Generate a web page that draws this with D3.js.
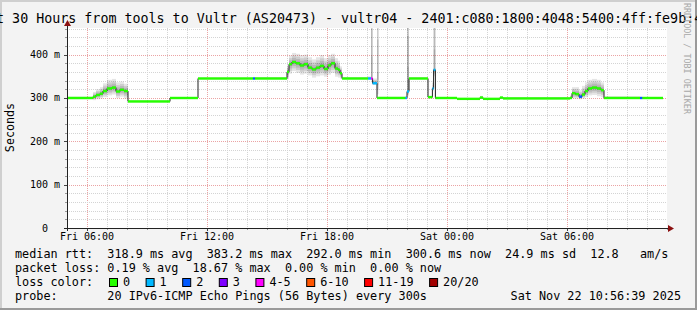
<!DOCTYPE html>
<html>
<head>
<meta charset="utf-8">
<script src="https://cdn.jsdelivr.net/npm/d3@7"></script>
<style>
  body { margin: 0; background: #fff; }
  svg text { font-family: "DejaVu Sans Mono", monospace; white-space: pre; }
</style>
</head>
<body>
<div id="chart"></div>
<script>
// hours since Fri 05:00, each value holds until the next start
const segHour = [0.00, 1.30, 1.45, 1.65, 1.80, 2.00, 2.25, 2.45, 2.65, 2.85, 3.05, 5.15, 6.55, 9.30, 9.40,
  11.00, 11.10, 11.25, 11.45, 11.65, 11.85, 12.05, 12.25, 12.45, 12.65, 12.85, 13.05, 13.20, 13.40, 13.55, 13.65, 13.75,
  15.05, 15.20, 15.28, 15.50, 15.58, 16.92, 17.00, 17.10, 18.05, 18.27, 18.33, 18.42, 19.50, 20.65, 20.80, 21.65, 21.80,
  25.15, 25.25, 25.42, 25.60, 25.75, 25.90, 26.05, 26.25, 26.50, 26.70, 26.85, 28.65, 28.77];
const lastHour = 29.8;
const medianMs = [300, 303, 307, 310, 316, 322, 324, 315, 319, 316, 292, 300, 345, 345, 345,
  360, 378, 383, 380, 375, 378, 370, 366, 370, 374, 367, 375, 380, 368, 365, 357, 345,
  345, 345, 334, 300, 300, 300, 315, 345, 302, 322, 365, 300, 298, 301, 298, 301, 299,
  300, 311, 309, 303, 308, 316, 322, 324, 322, 318, 300, 300, 300];
const lossPings = [0, 0, 0, 0, 0, 0, 0, 0, 0, 0, 0, 0, 0, 2, 0,
  0, 0, 0, 0, 0, 0, 0, 0, 0, 0, 0, 0, 0, 0, 0, 0, 0,
  1, 5, 1, 0, 0, 1, 1, 0, 0, 1, 1, 0, 0, 0, 0, 0, 0,
  0, 0, 0, 2, 0, 0, 0, 0, 0, 0, 0, 2, 0];
const smokeLoMs = [297, 295, 297, 299, 302, 306, 308, 300, 303, 299, 290, 298, 343, 343, 343,
  343, 356, 362, 358, 354, 356, 352, 347, 350, 352, 349, 354, 358, 349, 347, 345, 343,
  343, 340, 330, 342, 298, 298, 305, 343, 299, 315, 350, 298, 297, 298, 297, 298, 297,
  298, 299, 299, 297, 299, 302, 306, 307, 304, 302, 298, 298, 298];
const smokeHiMs = [303, 314, 320, 325, 334, 342, 344, 336, 338, 333, 294, 302, 347, 347, 348,
  375, 398, 404, 402, 399, 400, 394, 389, 394, 399, 392, 399, 402, 392, 386, 373, 348,
  350, 600, 345, 600, 303, 305, 600, 348, 305, 340, 600, 302, 300, 305, 300, 303, 301,
  306, 325, 325, 318, 328, 336, 342, 344, 342, 336, 304, 302, 302];

const xTickHours = [1, 7, 13, 19, 25];
const xTickLabels = ["Fri 06:00", "Fri 12:00", "Fri 18:00", "Sat 00:00", "Sat 06:00"];
const yTicks = [0, 100, 200, 300, 400];
const yTickLabels = ["0  ", "100 m", "200 m", "300 m", "400 m"];

const lossLabels = ["0", "1", "2", "3", "4-5", "6-10", "11-19", "20/20"];
const lossColors = ["#26ff00", "#00b8ff", "#0059ff", "#7e00ff", "#ff00ff", "#ff5500", "#ff0000", "#a10000"];

const titleText = "Last 30 Hours from tools to Vultr (AS20473) - vultr04 - 2401:c080:1800:4048:5400:4ff:fe9b:4";
const legendRows = [
  "median rtt:  318.9 ms avg  383.2 ms max  292.0 ms min  300.6 ms now  24.9 ms sd  12.8   am/s",
  "packet loss: 0.19 % avg  18.67 % max  0.00 % min  0.00 % now",
  "loss color:",
  "probe:       20 IPv6-ICMP Echo Pings (56 Bytes) every 300s"
];
const stampText = "Sat Nov 22 10:56:39 2025";

const W = 697, H = 310;
const plot = { left: 67, right: 667, top: 28, bottom: 228 };

const x = d3.scaleLinear().domain([0, 30]).range([plot.left, plot.right]);
const y = d3.scaleLinear().domain([0, 461.5]).range([plot.bottom, plot.top]);

function lossColor(n) {
  if (n <= 3) return lossColors[n];
  if (n <= 5) return lossColors[4];
  if (n <= 10) return lossColors[5];
  if (n <= 19) return lossColors[6];
  return lossColors[7];
}

const svg = d3.select("#chart").append("svg")
  .attr("width", W).attr("height", H);

// background + shade borders
svg.append("rect").attr("width", W).attr("height", H).attr("fill", "#f3f3f3");
svg.append("rect").attr("width", W).attr("height", 2).attr("fill", "#cfcfcf");
svg.append("rect").attr("width", 2).attr("height", H).attr("fill", "#cfcfcf");
svg.append("rect").attr("y", H - 2).attr("width", W).attr("height", 2).attr("fill", "#9a9a9a");
svg.append("rect").attr("x", W - 2).attr("width", 2).attr("height", H).attr("fill", "#9a9a9a");

svg.append("rect")
  .attr("x", plot.left).attr("y", plot.top)
  .attr("width", plot.right - plot.left).attr("height", plot.bottom - plot.top)
  .attr("fill", "#fff");

svg.append("clipPath").attr("id", "clip")
  .append("rect")
  .attr("x", plot.left).attr("y", plot.top)
  .attr("width", plot.right - plot.left).attr("height", plot.bottom - plot.top);

// grid
let grid = svg.append("g").attr("shape-rendering", "crispEdges");
grid.selectAll(".vg").data(d3.range(1, 30)).enter().append("line")
  .attr("x1", d => x(d) + 0.5).attr("x2", d => x(d) + 0.5)
  .attr("y1", plot.top).attr("y2", plot.bottom)
  .attr("stroke", d => xTickHours.includes(d) ? "#eba4a4" : "#d4d4d4")
  .attr("stroke-dasharray", "1,1");
grid.selectAll(".hg").data(d3.range(20, 461, 20)).enter().append("line")
  .attr("x1", plot.left).attr("x2", plot.right)
  .attr("y1", d => Math.round(y(d)) + 0.5).attr("y2", d => Math.round(y(d)) + 0.5)
  .attr("stroke", d => d % 100 === 0 ? "#eba4a4" : "#d4d4d4")
  .attr("stroke-dasharray", "1,1");

// data
let segs = segHour.map((h, i) => ({
  h0: h,
  h1: i < segHour.length - 1 ? segHour[i + 1] : lastHour,
  v: medianMs[i], loss: lossPings[i], lo: smokeLoMs[i], hi: smokeHiMs[i]
}));

let marks = svg.append("g").attr("clip-path", "url(#clip)");

// smoke, darker toward the median
[1, 0.7, 0.45, 0.2].forEach(k => {
  marks.append("g").selectAll("rect").data(segs).enter().append("rect")
    .attr("x", d => x(d.h0))
    .attr("width", d => x(d.h1) - x(d.h0))
    .attr("y", d => y(d.v + (d.hi - d.v) * k))
    .attr("height", d => Math.max(0, y(d.v - (d.v - d.lo) * k) - y(d.v + (d.hi - d.v) * k)))
    .attr("fill", "#000")
    .attr("fill-opacity", 0.1);
});

let stepPts = segs.map(d => [d.h0, d.v]);
stepPts.push([lastHour, segs[segs.length - 1].v]);
marks.append("path")
  .datum(stepPts)
  .attr("fill", "none")
  .attr("stroke", "#202020")
  .attr("stroke-width", 1)
  .attr("d", d3.line().x(d => x(d[0])).y(d => y(d[1])).curve(d3.curveStepAfter));

marks.append("g").selectAll("rect").data(segs).enter().append("rect")
  .attr("x", d => x(d.h0))
  .attr("width", d => x(d.h1) - x(d.h0))
  .attr("y", d => y(d.v) - 1.2)
  .attr("height", 2.4)
  .attr("fill", d => lossColor(d.loss));

// axes
let axes = svg.append("g").attr("shape-rendering", "crispEdges");
axes.selectAll(".xt").data(d3.range(0, 31)).enter().append("line")
  .attr("x1", d => x(d) + 0.5).attr("x2", d => x(d) + 0.5)
  .attr("y1", plot.bottom).attr("y2", d => xTickHours.includes(d) ? plot.bottom + 3 : plot.bottom + 2)
  .attr("stroke", d => xTickHours.includes(d) ? "#444" : "#999");
axes.selectAll(".yt").data(d3.range(0, 461, 20)).enter().append("line")
  .attr("y1", d => Math.round(y(d)) + 0.5).attr("y2", d => Math.round(y(d)) + 0.5)
  .attr("x1", d => d % 100 === 0 ? plot.left - 3 : plot.left - 2).attr("x2", plot.left)
  .attr("stroke", d => d % 100 === 0 ? "#444" : "#999");
axes.append("line")
  .attr("x1", plot.left - 3).attr("x2", plot.right + 3)
  .attr("y1", plot.bottom + 0.5).attr("y2", plot.bottom + 0.5)
  .attr("stroke", "#222");
axes.append("line")
  .attr("x1", plot.left + 0.5).attr("x2", plot.left + 0.5)
  .attr("y1", plot.bottom + 3).attr("y2", plot.top - 3)
  .attr("stroke", "#222");
svg.append("path")
  .attr("d", `M${plot.right + 1},${plot.bottom - 3}L${plot.right + 7},${plot.bottom + 0.5}L${plot.right + 1},${plot.bottom + 4}Z`)
  .attr("fill", "#8b1010");
svg.append("path")
  .attr("d", `M${plot.left - 3},${plot.top - 2}L${plot.left + 0.5},${plot.top - 8}L${plot.left + 4},${plot.top - 2}Z`)
  .attr("fill", "#8b1010");

svg.append("g").selectAll("text").data(xTickHours).enter().append("text")
  .attr("x", d => x(d)).attr("y", 240)
  .attr("text-anchor", "middle")
  .attr("font-size", "10px").attr("fill", "#000")
  .text((d, i) => xTickLabels[i]);

svg.append("g").selectAll("text").data(yTicks).enter().append("text")
  .attr("x", 60).attr("y", d => y(d) + 3.5)
  .attr("text-anchor", "end")
  .attr("font-size", "10px").attr("fill", "#000")
  .text((d, i) => yTickLabels[i]);

svg.append("text")
  .attr("transform", "translate(14,127.5) rotate(-90)")
  .attr("text-anchor", "middle")
  .attr("font-size", "11.7px")
  .text("Seconds");

// title is wider than the image, clipped on both sides like the original
svg.append("text")
  .attr("x", -28).attr("y", 23)
  .attr("font-size", "13.33px")
  .text(titleText);

svg.append("text")
  .attr("transform", "translate(684,3) rotate(90)")
  .attr("font-size", "8.4px")
  .attr("fill", "#a8a8a8")
  .text("RRDTOOL / TOBI OETIKER");

// legend
const charW = 7.1;
svg.append("g").selectAll("text").data(legendRows).enter().append("text")
  .attr("x", 15).attr("y", (d, i) => 258 + i * 14)
  .attr("font-size", "11.8px")
  .text(d => d);

let boxX = [];
let bx = 109;
lossLabels.forEach(l => { boxX.push(bx); bx += 14 + l.length * charW + 15.5; });
let lg = svg.append("g");
lg.selectAll("rect").data(lossLabels).enter().append("rect")
  .attr("x", (d, i) => boxX[i] + 0.5).attr("y", 278.5)
  .attr("width", 8).attr("height", 8)
  .attr("fill", (d, i) => lossColors[i])
  .attr("stroke", "#000").attr("stroke-width", 1);
lg.selectAll("text").data(lossLabels).enter().append("text")
  .attr("x", (d, i) => boxX[i] + 14).attr("y", 286)
  .attr("font-size", "11.8px")
  .text(d => d);

svg.append("text")
  .attr("x", 681).attr("y", 300)
  .attr("text-anchor", "end")
  .attr("font-size", "11.8px")
  .text(stampText);
</script>
</body>
</html>
